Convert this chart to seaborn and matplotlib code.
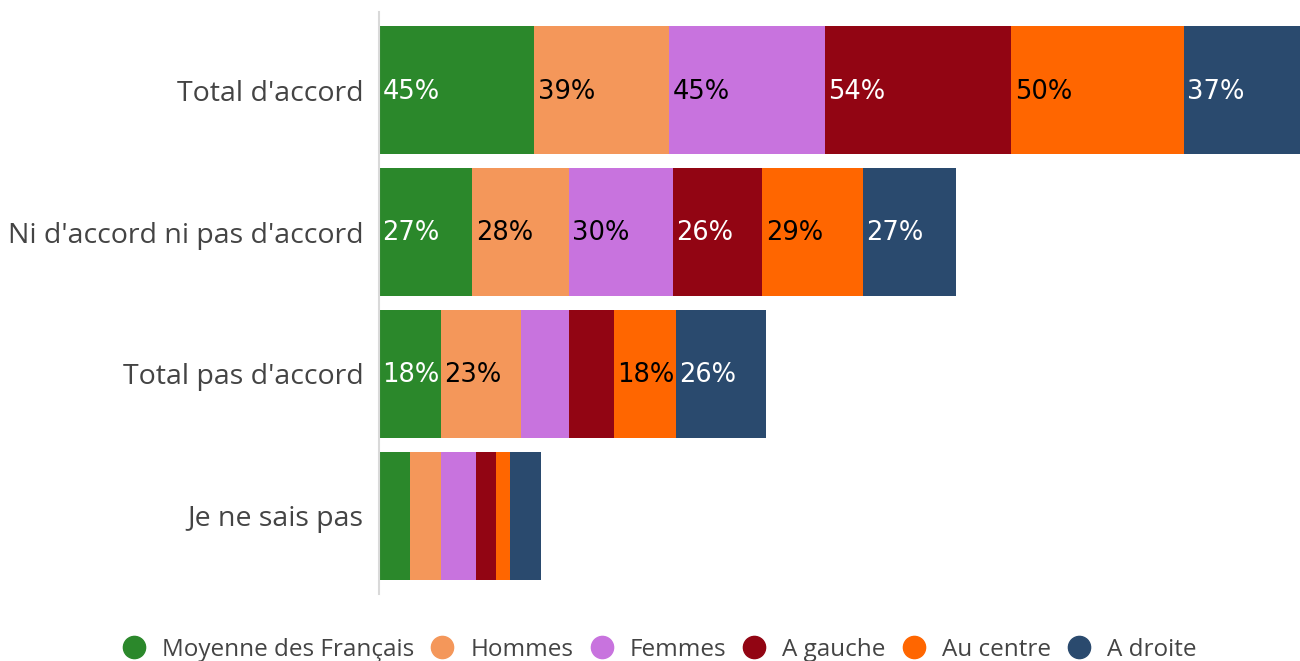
import seaborn as sns
import matplotlib.pyplot as plt
from matplotlib.lines import Line2D
import numpy as np
import pandas as pd

categories = ["Total d'accord", "Ni d'accord ni pas d'accord", "Total pas d'accord", "Je ne sais pas"]
series = ["Moyenne des Français", "Hommes", "Femmes", "A gauche", "Au centre", "A droite"]
moyenne = [45, 27, 18, 9]
hommes = [39, 28, 23, 9]
femmes = [45, 30, 14, 10]
gauche = [54, 26, 13, 6]
centre = [50, 29, 18, 4]
droite = [37, 27, 26, 9]

colors = ["#2b882b", "#f4975a", "#c873de", "#920513", "#ff6600", "#2a4a6e"]
label_colors = ["white", "black", "black", "white", "black", "white"]

df = pd.DataFrame([moyenne, hommes, femmes, gauche, centre, droite], index=series, columns=categories).T
cum = df.cumsum(axis=1)

sns.set_style("white")
plt.rcParams['font.family'] = ['Open Sans', 'DejaVu Sans']

fig = plt.figure(figsize=(13, 6.61), dpi=100)
ax = fig.add_axes([0.2915, 0.1014, 0.7085, 0.8804])

# stacked bars: draw cumulative totals from the widest to the narrowest
for i in reversed(range(len(series))):
    sns.barplot(x=cum[series[i]].values, y=categories, color=colors[i], width=0.9,
                orient="h", ax=ax, saturation=1, linewidth=0)

for j, cat in enumerate(categories):
    left = 0
    for i, s in enumerate(series):
        v = df.loc[cat, s]
        if v >= 15:
            ax.text(left + 1.0, j + 0.01, f"{v}%", va="center", ha="left", fontsize=18.5,
                    color=label_colors[i], family="DejaVu Sans")
        left += v

ax.set_xlim(0, 266.6)
ax.set_ylim(3.55, -0.55)
ax.set_xlabel("")
ax.set_ylabel("")
ax.set_xticks([])
ax.tick_params(axis="y", length=0, labelsize=20.5, labelcolor="#444444", pad=11)
for side in ["top", "right", "bottom"]:
    ax.spines[side].set_visible(False)
ax.spines["left"].set_color("#d9d9d9")
ax.spines["left"].set_linewidth(1.5)

handles = [Line2D([0], [0], marker="o", linestyle="", markersize=16,
                  markerfacecolor=c, markeredgecolor=c) for c in colors]
fig.legend(handles, series, loc="center", bbox_to_anchor=(0.507, 0.017), ncol=6,
           frameon=False, fontsize=17.5, labelcolor="#444444", handlelength=1.0,
           handletextpad=0.65, columnspacing=0.66)

fig.savefig("out.png", dpi=100)
